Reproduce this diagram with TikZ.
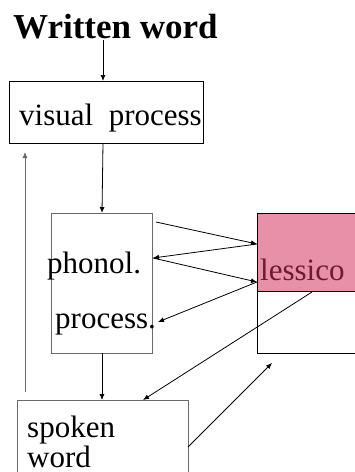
\documentclass[tikz,border=0pt]{standalone}
\usepackage{fontspec}
\setmainfont{Liberation Serif}
\usetikzlibrary{arrows.meta}
\definecolor{lexpink}{HTML}{E890A8}
\definecolor{lexink}{HTML}{6E1A35}
\definecolor{frame}{HTML}{6A6A6A}
\tikzset{
  box/.style={draw=#1, line width=0.9pt, minimum width=0pt, minimum height=0pt, inner sep=0pt, anchor=north west},
  box/.default=black,
  lbl/.style={anchor=base west, inner sep=0pt, font=\fontsize{31}{36}\selectfont},
  conn/.style={line width=0.8pt, -{Latex[length=6pt,width=5pt]}},
}
\begin{document}
\begin{tikzpicture}[x=1pt,y=-1pt]
\useasboundingbox (0,0) rectangle (355,472);

% title
\node[anchor=base west, inner sep=0pt, font=\fontsize{35}{40}\selectfont\bfseries] (title) at (13,38) {Written word};

% boxes
\node[box, minimum width=194pt, minimum height=62pt] (vis) at (9,81) {};
\node[box=frame, minimum width=101pt, minimum height=140pt] (phon) at (51,213) {};
\node[box, minimum width=110pt, minimum height=140pt] (lex) at (257,213) {};
\node[box, fill=lexpink, minimum width=110pt, minimum height=78pt] (lexfill) at (257,213) {};
\node[box=frame, minimum width=171pt, minimum height=90pt] (spoken) at (17,400) {};

% texts
\node[lbl] (tvis) at (19,125) {visual\ \ process};
\node[lbl] (tphon) at (47,273) {phonol.};
\node[lbl] (tproc) at (55,328) {process.};
\node[lbl, text=lexink] (tlex) at (260,280) {lessico};
\node[lbl] (tspk) at (27,437) {spoken};
\node[lbl] (tword) at (27,467) {word};

% connector end points
\coordinate (t0) at (103,40);
\coordinate (v0) at (103,81);
\coordinate (v1) at (103,143);
\coordinate (p0) at (102,213);
\coordinate (p1) at (102,353);
\coordinate (s0) at (102,400);
\coordinate (pA) at (156,222);
\coordinate (pB) at (153,258);
\coordinate (pC) at (158,322);
\coordinate (lA) at (257,244);
\coordinate (lB) at (257,282);
\coordinate (lC) at (312,292);
\coordinate (lD) at (272,363);
\coordinate (sA) at (143,400);
\coordinate (sB) at (188,447);
\coordinate (up0) at (25,392);
\coordinate (up1) at (25,152);

% connectors
\draw[conn] (t0) -- (v0);
\draw[conn] (v1) -- (p0);
\draw[conn] (p1) -- (s0);
\draw[conn] (pA) -- (lA);
\draw[conn] (lA) -- (pB);
\draw[conn] (pB) -- (lB);
\draw[conn] (lB) -- (pC);
\draw[conn] (lC) -- (sA);
\draw[conn] (sB) -- (lD);
\draw[conn, draw=frame] (up0) -- (up1);
\end{tikzpicture}
\end{document}
